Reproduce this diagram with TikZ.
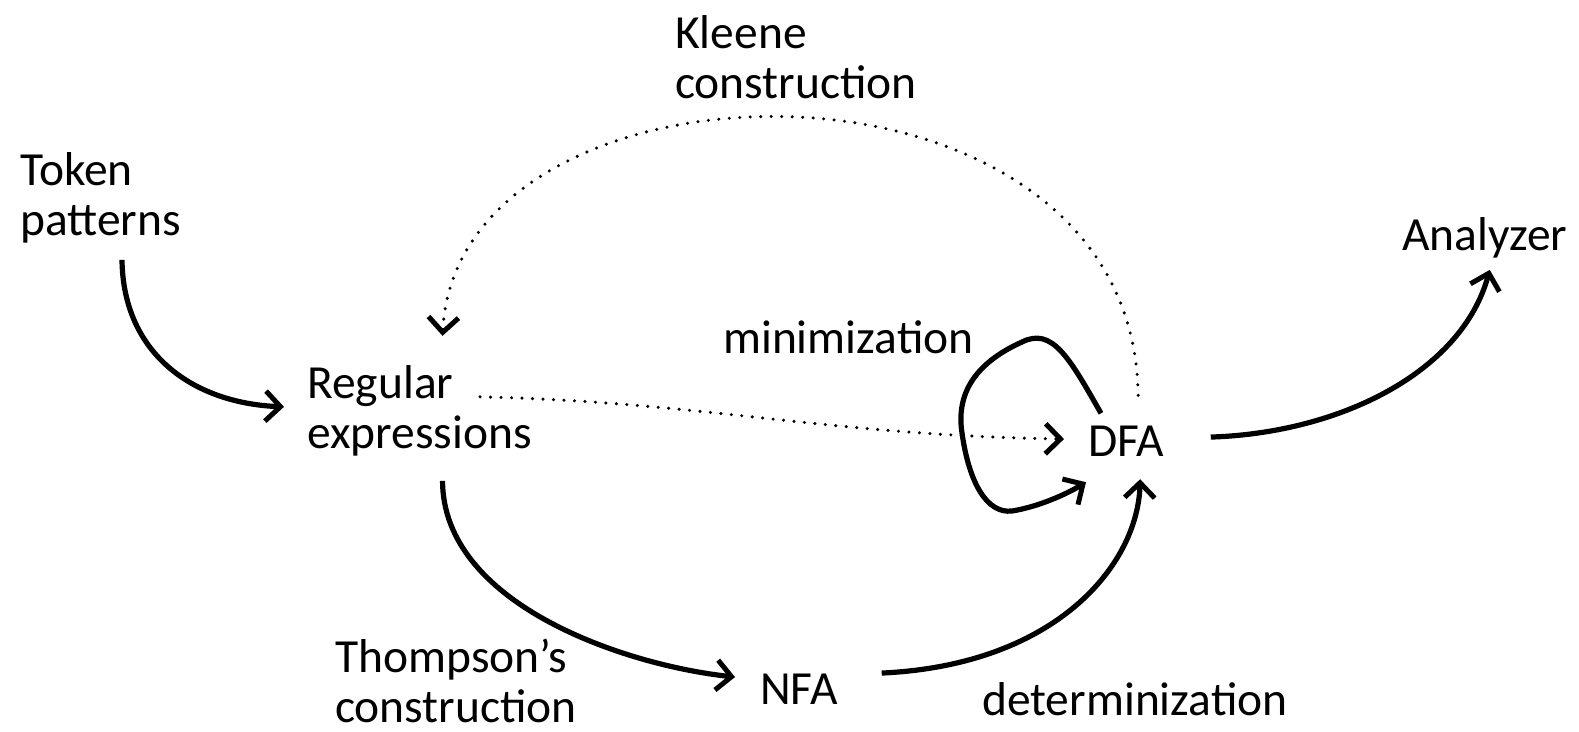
\documentclass[tikz,border=0pt]{standalone}
\usepackage{fontspec}
\setmainfont{Carlito}
\usetikzlibrary{arrows.meta}
\begin{document}
\begin{tikzpicture}[x=1pt,y=-1pt,
  lbl/.style={inner sep=0pt, anchor=base west, align=left, font=\fontsize{47.5}{50}\selectfont},
  tipv/.style={-{Straight Barb[length=15pt,width=30pt,line width=5pt]}},
  solidarrow/.style={line width=5.2pt, tipv},
  dotarrow/.style={line width=3.4pt, dash pattern=on 0pt off 10.5pt, line cap=round, tipv}]
\useasboundingbox (0,0) rectangle (1579,731);
\node[lbl] (tok) at (20,235) {Token\\patterns};
\node[lbl] (kle) at (675,98) {Kleene\\construction};
\node[lbl] (re)  at (307,448) {Regular\\expressions};
\node[lbl] (min) at (723,353) {minimization};
\node[lbl] (dfa) at (1088,456) {DFA};
\node[lbl] (ana) at (1402,250) {Analyzer};
\node[lbl] (nfa) at (760,704) {NFA};
\node[lbl] (tho) at (335,722) {Thompson’s\\construction};
\node[lbl] (det) at (982,715) {determinization};
% Token -> Regex
\draw[solidarrow] ([shift={(21.5,17)}]tok.south) .. controls (123,352) and (191,403) .. ([shift={(-23,-3.5)}]re.west);
% Kleene construction
\draw[dotarrow] ([shift={(12,-30)}]dfa.north) .. controls (1134,30) and (458,40) .. ([shift={(23,-29)}]re.north);
% Regex -> DFA direct
\draw[dotarrow] ([shift={(-52,-13.5)}]re.east) .. controls (705,402) and (825,435) .. ([shift={(-24,-1.7)}]dfa.west);
% minimization loop
\draw[solidarrow] ([shift={(13,-12)}]dfa.north west) .. controls (1069,357) and (1052,327) .. (1022,342)
   .. controls (982,360) and (955,388) .. (962,433)
   .. controls (969,483) and (987,514) .. (1012,511)
   .. controls (1037,507) and (1065,495) .. ([shift={(-2,26)}]dfa.south west);
% Regex -> NFA (Thompson's construction)
\draw[solidarrow] ([shift={(23,25)}]re.south) .. controls (443,604) and (624,665) .. ([shift={(-25,-11.7)}]nfa.west);
% NFA -> DFA (determinization)
\draw[solidarrow] ([shift={(44,-15.7)}]nfa.east) .. controls (1057,665) and (1138,564) .. ([shift={(14,23)}]dfa.south);
% DFA -> Analyzer
\draw[solidarrow] ([shift={(46.5,-3.7)}]dfa.east) .. controls (1340,433) and (1462,372) .. ([shift={(5,12)}]ana.south);
\end{tikzpicture}
\end{document}
